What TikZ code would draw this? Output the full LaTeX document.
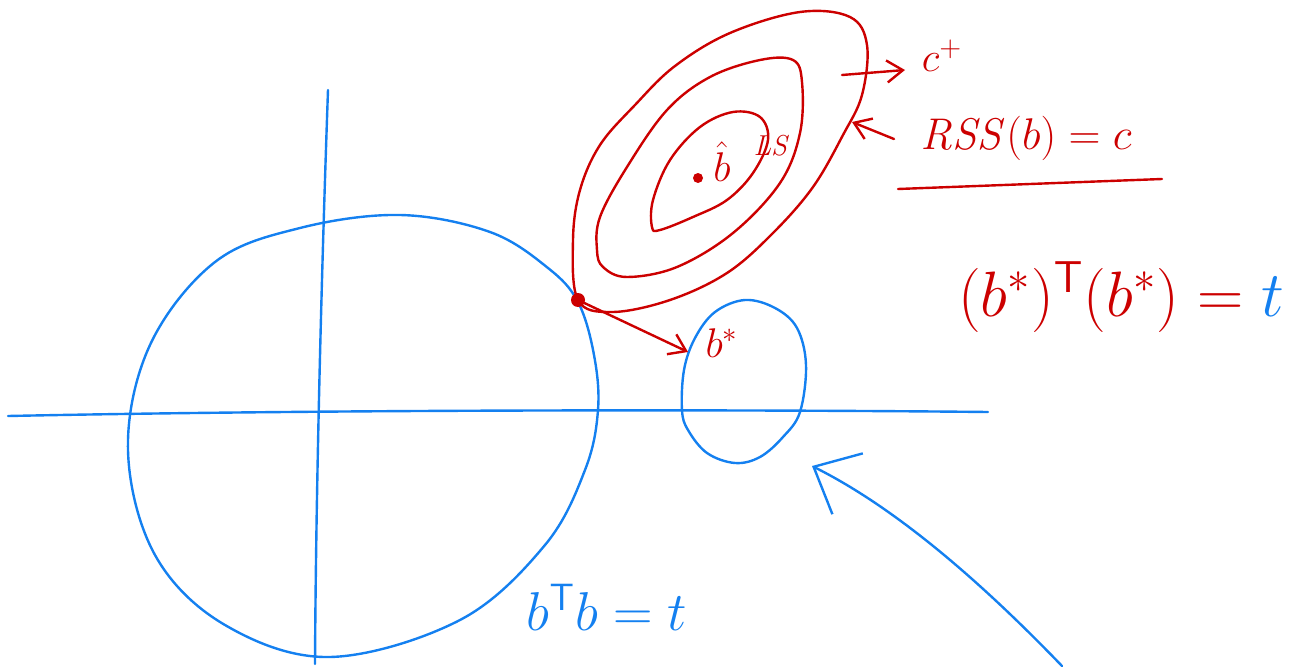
\documentclass[tikz,border=0pt]{standalone}
\usepackage{graphicx}
\usepackage{xcolor}
\usepackage{tikz}
\usepackage{amsmath}
\usetikzlibrary{arrows.meta}
\definecolor{InkRed}{RGB}{204,0,0}
\definecolor{InkBlue}{RGB}{20,128,240}

\begin{document}
\begin{tikzpicture}[x=0.5pt,y=-0.5pt,line width=1.2pt,line cap=round,line join=round,
    blueink/.style={draw=InkBlue},
    redink/.style={draw=InkRed},
    bigtip/.style={-{Straight Barb[length=19pt,width=34pt]}},
    smalltip/.style={-{Straight Barb[length=8pt,width=11pt]}},
    lbl/.style={inner sep=0pt,font=\fontsize{22}{26}\selectfont}]
  \useasboundingbox (0,0) rectangle (1314,669);

  % axes
  \coordinate (xl) at (8,416);
  \coordinate (xr) at (988,412);
  \coordinate (yt) at (328,90);
  \coordinate (yb) at (315,664);
  \draw[blueink] (xl) .. controls (300,410) and (700,409) .. (xr);
  \draw[blueink] (yt) .. controls (322,260) and (316,480) .. (yb);

  % constraint region b^T b = t
  \draw[blueink] plot[smooth cycle,tension=0.6] coordinates {
    (128,450) (150,345) (215,262) (300,228) (400,215) (490,232) (548,268)
    (578,302) (594,355) (598,410) (585,470) (545,545) (460,620) (330,657)
    (225,625) (155,555)};

  % small region
  \draw[blueink] plot[smooth cycle,tension=0.6] coordinates {
    (682,410) (684,370) (695,338) (715,312) (745,300) (775,308) (797,328)
    (806,365) (800,412) (783,437) (760,457) (735,463) (707,453) (688,430)};

  % RSS contours
  \draw[redink] plot[smooth cycle,tension=0.6] coordinates {
    (578,300) (573,240) (580,190) (600,145) (635,105) (675,66) (730,33)
    (800,12) (850,17) (867,45) (862,95) (843,135) (813,187) (773,233)
    (727,273) (670,300) (612,312)};
  \draw[redink] plot[smooth cycle,tension=0.6] coordinates {
    (597,250) (600,217) (627,167) (667,110) (710,77) (760,60) (793,60)
    (802,82) (800,133) (780,183) (733,233) (677,267) (627,277) (603,267)};
  \draw[redink] plot[smooth cycle,tension=0.6] coordinates {
    (652,227) (653,200) (670,160) (700,127) (733,112) (760,117) (768,140)
    (753,173) (727,200) (693,217) (660,230)};

  % points
  \coordinate (touch) at (578,300);
  \fill[InkRed] (touch) circle (7);
  \fill[InkRed] (698,178) circle (5);

  % labels
  \node[lbl,text=InkRed] (bhat) at (722,162) {$\hat{b}$};
  \node[inner sep=0pt,text=InkRed,font=\fontsize{15}{18}\selectfont] (ls) at (772,146) {$\mathit{LS}$};
  \node[lbl,text=InkRed] (bstar) at (722,343) {$b^{*}$};
  \node[lbl,text=InkRed] (cplus) at (942,56) {$c^{+}$};
  \node[lbl,text=InkRed] (rss) at (1026,138) {\scalebox{1.07}{$\mathit{RSS}(b)=c$}};
  \node[lbl,text=InkRed,font=\fontsize{25}{30}\selectfont] (bstarT) at (1121,297)
    {\scalebox{1.29}{$(b^{*})^{\mathsf{T}}(b^{*})=\textcolor{InkBlue}{t}$}};
  \node[lbl,text=InkBlue,font=\fontsize{25}{30}\selectfont] (bTb) at (607,607)
    {\scalebox{1.1}{$b^{\mathsf{T}}b=t$}};

  % connectors
  \coordinate (bstarin) at (688,352);
  \draw[redink,smalltip] (touch) -- (bstarin);
  \coordinate (cfrom) at (842,75);
  \coordinate (cto) at (905,70);
  \draw[redink,smalltip] (cfrom) -- (cto);
  \coordinate (rssfrom) at (894,139);
  \coordinate (rssto) at (852,122);
  \draw[redink,smalltip] (rssfrom) -- (rssto);
  \coordinate (ul) at (898,189);
  \coordinate (ur) at (1162,179);
  \draw[redink] (ul) -- (ur);

  \coordinate (tail) at (1062,666);
  \coordinate (tip) at (812,466);
  \draw[blueink,bigtip] (tail) .. controls (960,560) and (880,500) .. (tip);
\end{tikzpicture}
\end{document}
